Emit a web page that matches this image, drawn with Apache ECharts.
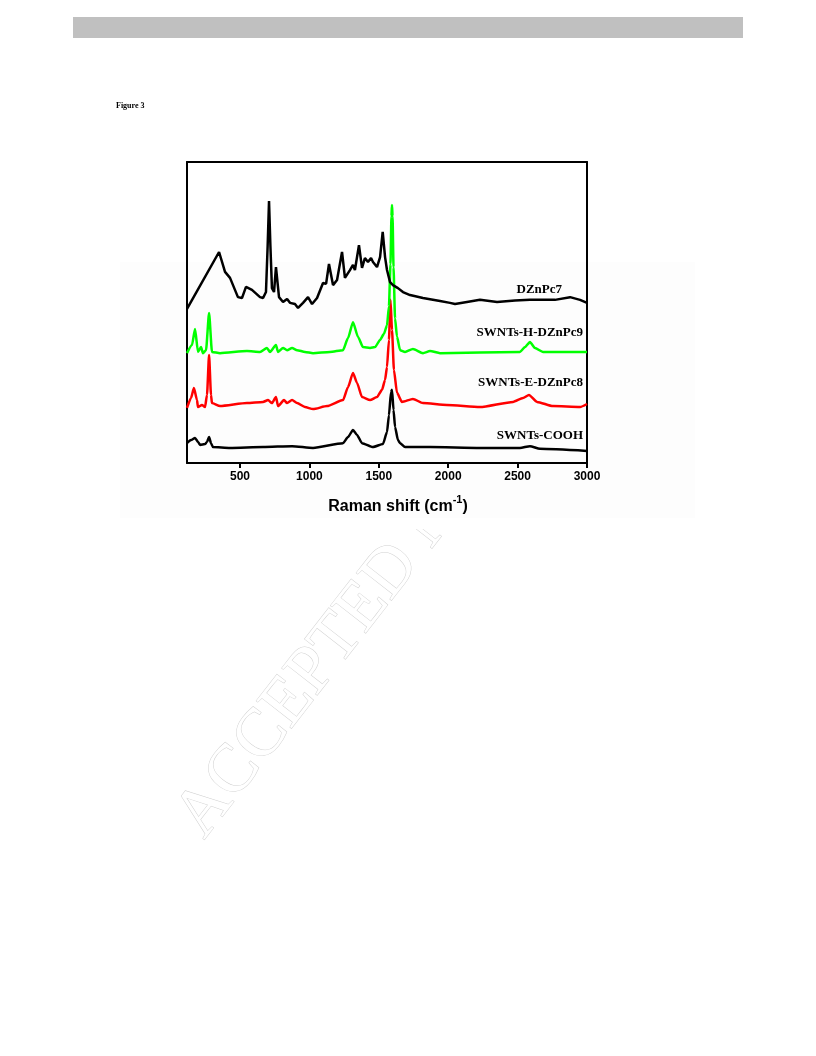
<!DOCTYPE html>
<html>
<head>
<meta charset="utf-8">
<script src="https://cdn.jsdelivr.net/npm/echarts@6/dist/echarts.min.js"></script>
<style>
html,body{margin:0;padding:0;background:#fff;}
#chart{width:816px;height:1056px;}
</style>
</head>
<body>
<div id="chart"></div>
<script>
// Raman shift (cm-1) vs intensity (a.u., stacked offsets)
const xTicks = [500, 1000, 1500, 2000, 2500, 3000];
const seriesNames = ['DZnPc7', 'SWNTs-H-DZnPc9', 'SWNTs-E-DZnPc8', 'SWNTs-COOH'];

const dznpc7 = [
  [118,51.2],[349,70.1],[392,63.5],[428,61.5],[485,55.1],[514,54.8],[543,58.5],[586,57.5],
  [644,55.1],[666,54.8],[687,56.8],[699,72],[709,87.0],[719,72],[730,58.1],[745,56.8],[759,65.1],
  [781,55.1],[810,53.5],[839,54.5],[860,53.2],[896,52.8],[918,51.5],[954,53.2],[990,55.1],
  [1019,52.8],[1055,54.8],[1098,59.8],[1120,59.5],[1141,66.1],[1170,59.1],[1199,60.8],
  [1235,70.1],[1256,61.5],[1292,64.1],[1314,65.8],[1328,64.1],[1357,72.4],[1379,64.8],
  [1400,68.1],[1422,66.8],[1444,68.1],[1458,66.8],[1487,65.1],[1509,68.4],[1528,76.8],
  [1545,68.4],[1559,64.1],[1581,60.1],[1602,59.1],[1638,58.1],[1674,56.8],[1725,55.8],
  [1818,54.8],[1941,53.8],[2013,53.2],[2049,52.8],[2135,53.5],[2229,54.2],[2352,53.5],
  [2481,54.0],[2589,54.2],[2769,54.2],[2878,55.1],[2950,54.2],[3000,53.2]
];

const swntsH = [
  [118,36.5],[154,39.2],[176,44.5],[197,36.9],[219,38.5],[233,36.5],[255,37.5],[277,49.8],
  [298,36.9],[356,36.5],[550,37.2],[644,36.9],[694,38.2],[716,36.9],[759,39.2],[774,36.9],
  [810,38.2],[839,37.5],[875,38.2],[911,37.5],[968,36.9],[1026,36.5],[1148,36.9],[1242,37.5],
  [1278,41.5],[1314,46.8],[1350,41.9],[1386,38.5],[1437,38.2],[1473,38.5],[1509,40.9],
  [1537,42.9],[1559,45.8],[1573,52],[1584,66],[1591,82],[1595,85.7],[1599,82],[1606,65],
  [1617,48],[1631,42],[1653,37.5],[1689,36.9],[1746,37.9],[1818,36.5],[1869,37.2],
  [1941,36.5],[2517,36.9],[2553,38.5],[2589,40.2],[2625,38.2],[2683,36.9],[3000,36.9]
];

const swntsE = [
  [118,18.3],[147,21.6],[168,24.9],[190,20.9],[197,18.6],[226,19.3],[248,18.6],[262,22.6],
  [277,35.9],[291,22.6],[298,19.9],[356,18.9],[550,19.9],[666,20.3],[702,20.9],[730,19.9],
  [759,21.9],[774,18.9],[817,20.9],[839,19.9],[875,20.9],[911,19.9],[968,18.6],[1026,17.9],
  [1127,18.9],[1242,20.9],[1278,25.2],[1314,29.9],[1343,26.6],[1379,21.9],[1437,20.9],
  [1487,21.9],[1523,24.3],[1545,27.6],[1559,31.9],[1573,40.9],[1584,54.2],[1595,44.2],
  [1609,30.9],[1631,23.3],[1667,20.3],[1746,21.3],[1818,19.9],[1991,19.3],[2229,18.6],
  [2467,20.3],[2539,21.6],[2582,22.6],[2640,20.3],[2755,18.9],[2950,18.6],[3000,19.6]
];

const swntsCOOH = [
  [118,6.6],[147,7.6],[176,8.3],[197,7.0],[212,6.0],[248,6.3],[262,7.0],[277,8.6],[291,6.6],
  [305,5.3],[428,5.0],[666,5.3],[875,5.6],[1026,5.0],[1242,6.6],[1278,8.6],[1314,11.0],
  [1343,9.3],[1379,6.6],[1458,5.3],[1530,6.3],[1559,10.3],[1573,15.9],[1588,23.6],[1595,24.3],
  [1606,17.6],[1617,12.0],[1638,7.6],[1653,6.6],[1689,5.3],[1869,5.3],[2229,5.0],[2517,5.0],
  [2589,5.6],[2661,4.7],[3000,4.0]
];

const chart = echarts.init(document.getElementById('chart'), null, {renderer: 'canvas'});
const axisFont = '"Liberation Sans", Arial, sans-serif';
const serif = '"Liberation Serif", "Times New Roman", serif';

function lineSeries(name, data, color, z, smooth) {
  return {
    name: name, type: 'line', data: data, showSymbol: false, symbol: 'none',
    smooth: smooth, smoothMonotone: 'x', z: z, xAxisIndex: 0, yAxisIndex: 0,
    lineStyle: {color: color, width: 2.5}, animation: false
  };
}

const option = {
  backgroundColor: '#ffffff',
  animation: false,
  grid: {left: 187, right: 229, top: 162, bottom: 593, show: false},
  xAxis: [{
    type: 'value', min: 118, max: 3000, position: 'bottom',
    axisLine: {show: true, onZero: false, lineStyle: {color: '#000', width: 2}},
    axisTick: {show: true, inside: false, length: 5, customValues: xTicks, lineStyle: {color: '#000', width: 2}},
    axisLabel: {show: true, customValues: xTicks, margin: 8, color: '#000', fontFamily: axisFont, fontWeight: 'bold', fontSize: 12,
      formatter: function (v) { return String(v); }},
    splitLine: {show: false},
    name: '{n|Raman shift (cm}{sup|-1}{n|)}',
    nameLocation: 'middle', nameGap: 31,
    nameTextStyle: {
      color: '#000', fontFamily: axisFont, fontWeight: 'bold', fontSize: 16, padding: [0, 0, 0, 22],
      rich: {
        n: {fontFamily: axisFont, fontWeight: 'bold', fontSize: 16, color: '#000', padding: [5, 0, 0, 0], verticalAlign: 'bottom'},
        sup: {fontFamily: axisFont, fontWeight: 'bold', fontSize: 11, color: '#000', verticalAlign: 'top'}
      }
    }
  }, {
    type: 'value', min: 118, max: 3000, position: 'top',
    axisLine: {show: true, onZero: false, lineStyle: {color: '#000', width: 2}},
    axisTick: {show: false}, axisLabel: {show: false}, splitLine: {show: false}
  }],
  yAxis: [{
    type: 'value', min: 0, max: 100, position: 'left',
    axisLine: {show: true, onZero: false, lineStyle: {color: '#000', width: 2}},
    axisTick: {show: false}, axisLabel: {show: false}, splitLine: {show: false}
  }, {
    type: 'value', min: 0, max: 100, position: 'right',
    axisLine: {show: true, onZero: false, lineStyle: {color: '#000', width: 2}},
    axisTick: {show: false}, axisLabel: {show: false}, splitLine: {show: false}
  }],
  series: [
    lineSeries(seriesNames[3], swntsCOOH, '#000000', 2, 0.2),
    lineSeries(seriesNames[2], swntsE, '#ff0000', 3, 0.2),
    lineSeries(seriesNames[1], swntsH, '#00ff00', 4, 0.2),
    lineSeries(seriesNames[0], dznpc7, '#000000', 5, false)
  ],
  graphic: {elements: [
    {type: 'rect', z: -10, shape: {x: 73, y: 17, width: 670, height: 21}, style: {fill: '#c0c0c0'}},
    {type: 'text', z: -10, x: 116, y: 106, style: {text: 'Figure 3', font: 'bold 8px ' + serif, fill: '#000', textAlign: 'left', textVerticalAlign: 'middle', align: 'left', verticalAlign: 'middle'}},
    {type: 'text', z: -10, x: 190, y: 829, rotation: 0.9076,
      style: {text: 'ACCEPTED MANUSCRIPT', font: '68px ' + serif, fill: '#ffffff', stroke: '#d2d2d2', lineWidth: 1,
        textAlign: 'left', textVerticalAlign: 'middle', align: 'left', verticalAlign: 'middle'}},
    {type: 'rect', z: -6, shape: {x: 110, y: 140, width: 590, height: 389}, style: {fill: '#ffffff'}},
    {type: 'rect', z: -5, shape: {x: 120, y: 262, width: 575, height: 256}, style: {fill: '#fdfdfd'}},
    {type: 'text', z: 10, x: 562, y: 290, style: {text: seriesNames[0], font: 'bold 13px ' + serif, fill: '#000', textAlign: 'right', textVerticalAlign: 'middle', align: 'right', verticalAlign: 'middle'}},
    {type: 'text', z: 10, x: 583, y: 333, style: {text: seriesNames[1], font: 'bold 13px ' + serif, fill: '#000', textAlign: 'right', textVerticalAlign: 'middle', align: 'right', verticalAlign: 'middle'}},
    {type: 'text', z: 10, x: 583, y: 383, style: {text: seriesNames[2], font: 'bold 13px ' + serif, fill: '#000', textAlign: 'right', textVerticalAlign: 'middle', align: 'right', verticalAlign: 'middle'}},
    {type: 'text', z: 10, x: 583, y: 436, style: {text: seriesNames[3], font: 'bold 13px ' + serif, fill: '#000', textAlign: 'right', textVerticalAlign: 'middle', align: 'right', verticalAlign: 'middle'}}
  ]}
};
chart.setOption(option);
</script>
</body>
</html>
